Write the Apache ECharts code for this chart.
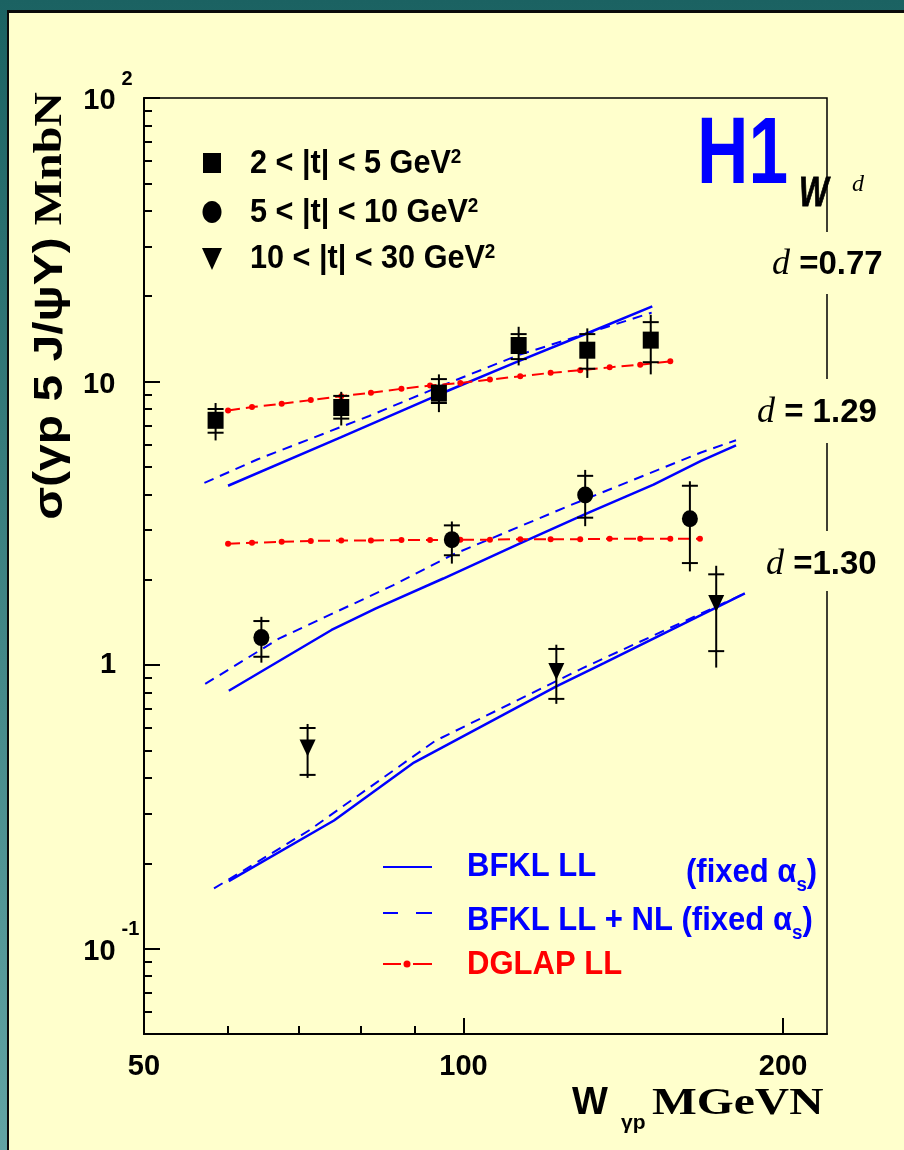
<!DOCTYPE html>
<html><head><meta charset="utf-8">
<script src="https://cdn.jsdelivr.net/npm/echarts@6/dist/echarts.min.js"></script>
<style>
html,body{margin:0;padding:0;}
body{width:904px;height:1150px;overflow:hidden;position:relative;background:linear-gradient(to bottom,#1b6262,#62a4a4);}
#panel{position:absolute;left:7px;top:10px;right:0;bottom:0;background:#ffffcc;border-left:2px solid #0a0a0a;border-top:3px solid #0a0a0a;}
#chart{position:absolute;left:0;top:0;width:904px;height:1150px;}
</style></head><body>
<div id="panel"></div><div id="chart"></div>
<script>
// ---------- data (W in GeV, sigma in nb) ----------
const sqW      = [58.4, 76.7, 94.8, 112.7, 130.8, 150.1];
const sqSigma  = [7.3, 8.1, 9.1, 13.4, 12.9, 14.0];
const sqTotLo  = [6.2, 7.0, 7.8, 11.4, 10.3, 10.6];
const sqTotHi  = [8.4, 9.2, 10.6, 15.6, 15.4, 17.2];
const sqStatLo = [6.6, 7.4, 8.4, 12.0, 11.1, 11.7];
const sqStatHi = [8.0, 8.9, 10.2, 14.7, 14.7, 16.2];

const ciW      = [64.5, 97.5, 130.2, 163.4];
const ciSigma  = [1.25, 2.77, 3.98, 3.28];
const ciTotLo  = [1.02, 2.28, 3.09, 2.14];
const ciTotHi  = [1.48, 3.21, 4.88, 4.45];
const ciStatLo = [1.07, 2.44, 3.31, 2.29];
const ciStatHi = [1.43, 3.11, 4.65, 4.29];

const trW      = [71.3, 122.3, 173.0];
const trSigma  = [0.51, 0.95, 1.65];
const trTotLo  = [0.40, 0.73, 0.98];
const trTotHi  = [0.62, 1.18, 2.24];
const trStatLo = [0.41, 0.76, 1.12];
const trStatHi = [0.60, 1.14, 2.09];

// BFKL LL (solid)
const llW1 = [60.0, 76.6, 94.8, 112.7, 130.8, 150.6];
const llS1 = [4.29, 6.35, 9.0, 11.8, 14.8, 18.4];
const llW2 = [60.1, 75.1, 82.7, 95.7, 112.9, 130.2, 151.0, 167.4, 180.6];
const llS2 = [0.812, 1.33, 1.585, 2.02, 2.68, 3.41, 4.33, 5.25, 5.96];
const llW3 = [60.1, 75.5, 89.8, 122.3, 135.6, 184.1];
const llS3 = [0.173, 0.283, 0.453, 0.842, 1.016, 1.79];
// BFKL LL + NL (dashed)
const nlW1 = [57.0, 64.0, 81.5, 94.8, 112.7, 130.8, 150.4];
const nlS1 = [4.39, 5.32, 7.56, 9.58, 12.4, 14.8, 17.5];
const nlW2 = [57.1, 67.0, 85.8, 97.4, 125.8, 167.4, 180.6];
const nlS2 = [0.858, 1.24, 1.91, 2.44, 3.65, 5.62, 6.21];
const nlW3 = [58.2, 71.5, 94.0, 129.5, 184.1];
const nlS3 = [0.163, 0.261, 0.540, 0.976, 1.79];
// DGLAP LL (dash-dot with dots)
const dgW1 = [60.0, 63.2, 67.4, 71.8, 76.7, 81.8, 87.4, 93.0, 99.3, 105.9, 113.1, 120.8, 128.8, 137.3, 146.7, 156.6];
const dgS1 = [7.91, 8.13, 8.35, 8.60, 8.88, 9.13, 9.43, 9.68, 9.89, 10.16, 10.44, 10.73, 10.96, 11.22, 11.47, 11.78];
const dgW2 = [60.0, 63.2, 67.4, 71.8, 76.7, 81.8, 87.4, 93.0, 99.3, 105.9, 113.1, 120.8, 128.8, 137.3, 146.7, 156.6, 167.0];
const dgS2 = [2.68, 2.70, 2.72, 2.74, 2.75, 2.75, 2.76, 2.76, 2.77, 2.77, 2.78, 2.78, 2.78, 2.79, 2.79, 2.79, 2.79];

// axis ticks
const xRange = [50, 220];
const yRange = [0.05, 100];
const xLabels = [50, 100, 200];
const xMajorTicks = [100, 200];
const xMinorTicks = [60, 70, 80, 90];
const yMajorTicks = [0.1, 1, 10, 100];
const yMinorTicks = [0.06, 0.07, 0.08, 0.09, 0.2, 0.3, 0.4, 0.5, 0.6, 0.7, 0.8, 0.9,
                     2, 3, 4, 5, 6, 7, 8, 9, 20, 30, 40, 50, 60, 70, 80, 90];

const legendTop = ['2 < |t| < 5 GeV', '5 < |t| < 10 GeV', '10 < |t| < 30 GeV'];
const dLabels = [' =0.77', ' = 1.29', ' =1.30'];

// ---------- build ----------
const L = Math.log10;
const SANS = '"Liberation Sans", Arial, sans-serif';
const SERIF = '"Liberation Serif", "Times New Roman", serif';
const BLUE = '#0000ff', RED = '#ff0000';

const pairs = (xs, ys) => xs.map((x, i) => [L(x), L(ys[i])]);
const errData = (xs, lo, hi, slo, shi) => xs.map((x, i) => [L(x), L(lo[i]), L(hi[i]), L(slo[i]), L(shi[i])]);

function errRender(params, api) {
  const x = api.value(0);
  const lo = api.coord([x, api.value(1)]), hi = api.coord([x, api.value(2)]);
  const slo = api.coord([x, api.value(3)]), shi = api.coord([x, api.value(4)]);
  const hw = 8, st = {stroke: '#000', lineWidth: 2};
  return {type: 'group', children: [
    {type: 'line', shape: {x1: lo[0], y1: lo[1], x2: hi[0], y2: hi[1]}, style: st},
    {type: 'line', shape: {x1: slo[0] - hw, y1: slo[1], x2: slo[0] + hw, y2: slo[1]}, style: st},
    {type: 'line', shape: {x1: shi[0] - hw, y1: shi[1], x2: shi[0] + hw, y2: shi[1]}, style: st}
  ]};
}
const errSeries = d => ({type: 'custom', renderItem: errRender, data: d, encode: {x: 0, y: [1, 2, 3, 4]}, z: 5, silent: true});
const solid = d => ({type: 'line', data: d, symbol: 'none', lineStyle: {color: BLUE, width: 2.5}, z: 3, silent: true});
const dashed = d => ({type: 'line', data: d, symbol: 'none', lineStyle: {color: BLUE, width: 2, type: [10, 7]}, z: 3, silent: true});
const dglap = d => ({type: 'line', data: d, symbol: 'circle', symbolSize: 6, showAllSymbol: true,
  itemStyle: {color: RED, opacity: 1}, lineStyle: {color: RED, width: 2, type: [12, 6]}, z: 3, silent: true});
const scatter = (d, sym, size, rot) => ({type: 'scatter', data: d, symbol: sym, symbolSize: size, symbolRotate: rot || 0,
  itemStyle: {color: '#000', opacity: 1}, z: 6, silent: true});

const axisLineSt = {show: true, onZero: false, lineStyle: {color: '#000', width: 2}};
const tickSt = {color: '#000', width: 2};

const xBase = {type: 'value', min: L(xRange[0]), max: L(xRange[1]), position: 'bottom', splitLine: {show: false}};
const yBase = {type: 'value', min: L(yRange[0]), max: L(yRange[1]), position: 'left', splitLine: {show: false}};

const yFmt = v => {
  const e = Math.round(v);
  if (e === 0) return '{one|1}';
  if (e === 1) return '{n|10}';
  return '{sp| }{n|10}{s|' + (e > 0 ? e : '-' + (-e)) + '}';
};

const txt = (o) => Object.assign({type: 'text', z: 100, silent: true}, o);
const heavy = c => ({stroke: c, lineWidth: 0.8});

const graphic = [
  // covers for right frame where labels sit
  {type: 'rect', z: 99, shape: {x: 815, y: 232, width: 24, height: 62}, style: {fill: '#ffffcc'}},
  {type: 'rect', z: 99, shape: {x: 815, y: 379, width: 24, height: 64}, style: {fill: '#ffffcc'}},
  {type: 'rect', z: 99, shape: {x: 815, y: 531, width: 24, height: 60}, style: {fill: '#ffffcc'}},
  // H1 logo
  txt({x: 697, y: 157, scaleX: 0.75, style: {text: 'H1', fill: BLUE, font: 'bold 95px ' + SANS, align: 'left', verticalAlign: 'middle'}}),
  txt({x: 799, y: 194, scaleX: 0.74, style: Object.assign({text: 'W', fill: '#000', font: 'italic bold 42px ' + SANS, align: 'left', verticalAlign: 'middle'}, heavy('#000'))}),
  txt({x: 852, y: 185, style: {text: 'd', fill: '#000', font: 'italic 24px ' + SERIF, align: 'left', verticalAlign: 'middle'}}),
  // d labels
  ...[[772, 265], [757, 413], [766, 565]].map((p, i) => txt({x: p[0], y: p[1], style: {
    text: '{d|d}{e|' + dLabels[i] + '}', align: 'left', verticalAlign: 'middle',
    rich: {d: {font: 'italic 36px ' + SERIF, fill: '#000'}, e: {font: 'bold 33px ' + SANS, fill: '#000'}}}})),
  // top legend markers
  {type: 'rect', z: 100, shape: {x: 203, y: 153, width: 18, height: 20}, style: {fill: '#000'}},
  {type: 'ellipse', z: 100, shape: {cx: 212, cy: 212, rx: 9.5, ry: 11}, style: {fill: '#000'}},
  {type: 'polygon', z: 100, shape: {points: [[202, 248], [222, 248], [212, 270]]}, style: {fill: '#000'}},
  ...legendTop.map((t, i) => txt({x: 250, y: [164, 213, 259][i], scaleX: 0.9, style: {
    text: '{a|' + t + '}{s|2}', align: 'left', verticalAlign: 'middle',
    rich: {a: {font: 'bold 34px ' + SANS, fill: '#000', lineHeight: 34, padding: [10, 0, 0, 0], verticalAlign: 'bottom'},
           s: {font: 'bold 21px ' + SANS, fill: '#000', lineHeight: 21, verticalAlign: 'top'}}}})),
  // bottom legend samples
  {type: 'line', z: 100, shape: {x1: 383, y1: 867, x2: 432, y2: 867}, style: {stroke: BLUE, lineWidth: 2}},
  {type: 'line', z: 100, shape: {x1: 383, y1: 913, x2: 398, y2: 913}, style: {stroke: BLUE, lineWidth: 2}},
  {type: 'line', z: 100, shape: {x1: 416, y1: 913, x2: 432, y2: 913}, style: {stroke: BLUE, lineWidth: 2}},
  {type: 'line', z: 100, shape: {x1: 383, y1: 964, x2: 401, y2: 964}, style: {stroke: RED, lineWidth: 2}},
  {type: 'line', z: 100, shape: {x1: 413, y1: 964, x2: 432, y2: 964}, style: {stroke: RED, lineWidth: 2}},
  {type: 'circle', z: 100, shape: {cx: 407, cy: 964, r: 3.5}, style: {fill: RED}},
  txt({x: 467, y: 867, scaleX: 0.94, style: {text: 'BFKL LL', fill: BLUE, font: 'bold 33px ' + SANS, align: 'left', verticalAlign: 'middle'}}),
  txt({x: 686, y: 873, scaleX: 0.94, style: {text: '{a|(fixed α}{s|s}{a|)}', align: 'left', verticalAlign: 'middle',
    rich: {a: {font: 'bold 33px ' + SANS, fill: BLUE, lineHeight: 34, verticalAlign: 'top'},
           s: {font: 'bold 20px ' + SANS, fill: BLUE, lineHeight: 20, padding: [19, 0, 0, 0], verticalAlign: 'top'}}}}),
  txt({x: 467, y: 921, scaleX: 0.94, style: {text: '{a|BFKL LL + NL (fixed α}{s|s}{a|)}', align: 'left', verticalAlign: 'middle',
    rich: {a: {font: 'bold 33px ' + SANS, fill: BLUE, lineHeight: 34, verticalAlign: 'top'},
           s: {font: 'bold 20px ' + SANS, fill: BLUE, lineHeight: 20, padding: [19, 0, 0, 0], verticalAlign: 'top'}}}}),
  txt({x: 467, y: 965, scaleX: 0.94, style: {text: 'DGLAP LL', fill: RED, font: 'bold 33px ' + SANS, align: 'left', verticalAlign: 'middle'}}),
  // x-axis title
  txt({x: 572, y: 1104, style: {text: 'W', fill: '#000', font: 'bold 38px ' + SANS, align: 'left', verticalAlign: 'middle'}}),
  txt({x: 621, y: 1123, style: {text: 'γp', fill: '#000', font: 'bold 21px ' + SANS, align: 'left', verticalAlign: 'middle'}}),
  txt({x: 652, y: 1104, scaleX: 1.25, style: {text: 'MGeVN', fill: '#000', font: 'bold 38px ' + SERIF, align: 'left', verticalAlign: 'middle'}}),
  // y-axis title (rotated)
  txt({x: 51, y: 92, rotation: Math.PI / 2, scaleX: 1.2, style: {text: '{a|σ(γp 5 J/ψY)}{b| MnbN}', align: 'right', verticalAlign: 'middle',
    rich: {a: {font: 'bold 40px ' + SANS, fill: '#000'}, b: {font: 'bold 40px ' + SERIF, fill: '#000'}}}})
];

const labelFont = {fontFamily: SANS, fontWeight: 'bold', fontSize: 29, color: '#000'};
const option = {
  animation: false,
  backgroundColor: 'transparent',
  grid: {left: 144, right: 77, top: 98, bottom: 116, show: true, borderColor: '#000', borderWidth: 1.5, outerBoundsMode: 'none'},
  xAxis: [
    Object.assign({}, xBase, {axisLine: axisLineSt,
      axisTick: {show: true, inside: true, length: 16, lineStyle: tickSt, customValues: xMajorTicks.map(L)},
      axisLabel: Object.assign({show: true, customValues: xLabels.map(L), margin: 18,
        formatter: v => String(Math.round(Math.pow(10, v)))}, labelFont)}),
    Object.assign({}, xBase, {axisLine: {show: false, onZero: false},
      axisTick: {show: true, inside: true, length: 8, lineStyle: tickSt, customValues: xMinorTicks.map(L)},
      axisLabel: {show: false}})
  ],
  yAxis: [
    Object.assign({}, yBase, {axisLine: axisLineSt,
      axisTick: {show: true, inside: true, length: 16, lineStyle: tickSt, customValues: yMajorTicks.map(L)},
      axisLabel: {show: true, customValues: yMajorTicks.map(L), margin: 61, align: 'left', formatter: yFmt,
        rich: {n: Object.assign({verticalAlign: 'middle', padding: [6, 0, 0, 0]}, labelFont),
               sp: {fontSize: 1, lineHeight: 58},
               one: Object.assign({padding: [0, 0, 0, 17]}, labelFont),
               s: {fontFamily: SANS, fontWeight: 'bold', fontSize: 20, color: '#000', lineHeight: 20, padding: [0, 0, 0, 6], verticalAlign: 'top'}}}}),
    Object.assign({}, yBase, {axisLine: {show: false, onZero: false},
      axisTick: {show: true, inside: true, length: 8, lineStyle: tickSt, customValues: yMinorTicks.map(L)},
      axisLabel: {show: false}})
  ],
  graphic: graphic,
  series: [
    solid(pairs(llW1, llS1)), solid(pairs(llW2, llS2)), solid(pairs(llW3, llS3)),
    dashed(pairs(nlW1, nlS1)), dashed(pairs(nlW2, nlS2)), dashed(pairs(nlW3, nlS3)),
    dglap(pairs(dgW1, dgS1)), dglap(pairs(dgW2, dgS2)),
    errSeries(errData(sqW, sqTotLo, sqTotHi, sqStatLo, sqStatHi)),
    errSeries(errData(ciW, ciTotLo, ciTotHi, ciStatLo, ciStatHi)),
    errSeries(errData(trW, trTotLo, trTotHi, trStatLo, trStatHi)),
    scatter(pairs(sqW, sqSigma), 'rect', [16, 17]),
    scatter(pairs(ciW, ciSigma), 'circle', [16, 17]),
    scatter(pairs(trW, trSigma), 'triangle', [16, 17], 180)
  ]
};
const chart = echarts.init(document.getElementById('chart'), null, {renderer: 'canvas'});
chart.setOption(option);
</script>
</body></html>
